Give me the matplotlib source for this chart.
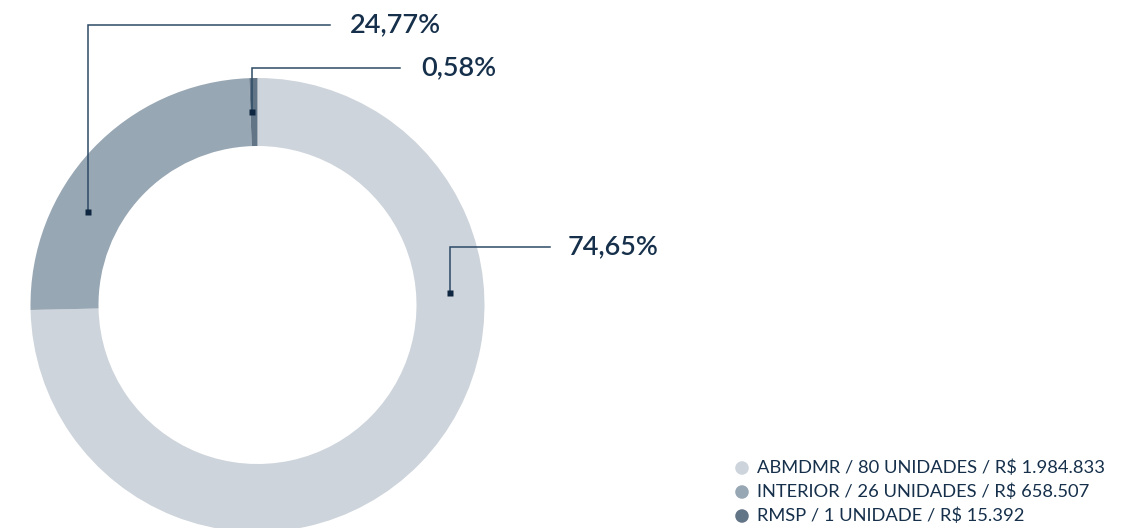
import numpy as np
import matplotlib
matplotlib.use("Agg")
import matplotlib.pyplot as plt

plt.rcParams['font.family'] = ['Lato', 'DejaVu Sans']

# data
regions = ["ABMDMR", "INTERIOR", "RMSP"]
shares = [74.65, 24.77, 0.58]
pct_labels = ["74,65%", "24,77%", "0,58%"]
legend_texts = [
    "ABMDMR / 80 UNIDADES / R$ 1.984.833",
    "INTERIOR / 26 UNIDADES / R$ 658.507",
    "RMSP / 1 UNIDADE / R$ 15.392",
]
colors = ["#cdd4db", "#98a7b4", "#627587"]
ink = "#16304b"

W, H = 1135, 528
fig = plt.figure(figsize=(W / 100, H / 100), dpi=100)
ax = fig.add_axes([0, 0, 1, 1])

# donut, working in pixel units (y flipped so pie angles stay normal)
cx, cy = 257.5, H - 305
r_out, ring = 227, 68
ax.pie(shares, colors=colors, radius=r_out, center=(cx, cy), startangle=90,
       counterclock=False, wedgeprops=dict(width=ring, linewidth=0))

# leader lines: anchor angle on the ring, elbow height, line end, text x
r_mid = r_out - ring / 2
anchor_deg = [3.6, 151.2, 91.6]
elbow_y = [247, 25, 68]
line_end = [550, 330, 400]
text_x = [568, 350, 421]
for lab, ang, ey, lx, tx in zip(pct_labels, anchor_deg, elbow_y, line_end, text_x):
    ax_ = cx + r_mid * np.cos(np.radians(ang))
    ay_ = cy + r_mid * np.sin(np.radians(ang))
    ax.plot([ax_, ax_, lx], [ay_, H - ey, H - ey], color="#2d4a66", lw=1.1,
            solid_joinstyle="miter")
    ax.plot([ax_], [ay_], marker="s", ms=4.5, color="#0e2640", mec="none")
    ax.text(tx, H - ey, lab, fontsize=19.5, fontweight="semibold", color=ink,
            va="center", ha="left")

# legend
for i, (txt, c) in enumerate(zip(legend_texts, colors)):
    yy = H - (468 + 24 * i)
    ax.scatter([742], [yy], s=95, color=c, edgecolors="none")
    ax.text(757, yy, txt, fontsize=13.2, color=ink, va="center", ha="left")

ax.set_xlim(0, W)
ax.set_ylim(0, H)
ax.set_aspect("auto")
ax.axis("off")
fig.savefig("out.png", dpi=100)
